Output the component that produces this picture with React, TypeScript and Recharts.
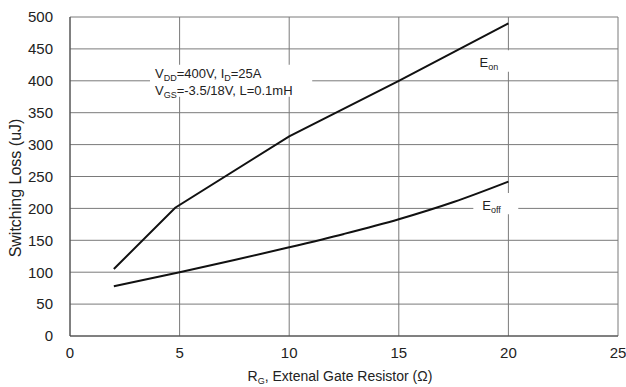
import React from "react";
import {
  LineChart,
  Line,
  XAxis,
  YAxis,
  CartesianGrid,
  ReferenceArea,
} from "recharts";

document.body.style.margin = "0";

const xTicks = [0, 5, 10, 15, 20, 25];
const yTicks = [0, 50, 100, 150, 200, 250, 300, 350, 400, 450, 500];

const eonRg = [2, 4.8, 10, 15, 20];
const eonLoss = [105, 201, 313, 400, 490];

const eoffRg = [2, 5, 7.5, 10, 12.5, 15, 17.5, 20];
const eoffLoss = [78, 100, 119, 139, 160, 183, 210, 242];

const eonData = eonRg.map((x, i) => ({ x, y: eonLoss[i] }));
const eoffData = eoffRg.map((x, i) => ({ x, y: eoffLoss[i] }));

const FONT = "Liberation Sans, Arial, sans-serif";
const sub = { fontSize: 9 };

function CondLabel(p: any) {
  const vb = p.viewBox || {};
  const x = vb.x + 5;
  const y = vb.y + 13;
  return (
    <text x={x} y={y} fontFamily={FONT} fontSize={13} fill="#222">
      <tspan>V</tspan>
      <tspan style={sub} dy={3}>DD</tspan>
      <tspan dy={-3}>=400V, I</tspan>
      <tspan style={sub} dy={3}>D</tspan>
      <tspan dy={-3}>=25A</tspan>
      <tspan x={x} dy={17}>V</tspan>
      <tspan style={sub} dy={3}>GS</tspan>
      <tspan dy={-3}>=-3.5/18V, L=0.1mH</tspan>
    </text>
  );
}

function EonLabel(p: any) {
  const vb = p.viewBox || {};
  return (
    <text x={vb.x + 3} y={vb.y + 17} fontFamily={FONT} fontSize={13} fill="#222">
      <tspan>E</tspan>
      <tspan style={sub} dy={3}>on</tspan>
    </text>
  );
}

function EoffLabel(p: any) {
  const vb = p.viewBox || {};
  return (
    <text x={vb.x + 9} y={vb.y + 17} fontFamily={FONT} fontSize={13} fill="#222">
      <tspan>E</tspan>
      <tspan style={sub} dy={3}>off</tspan>
    </text>
  );
}

function XTitle(p: any) {
  const vb = p.viewBox || {};
  return (
    <text
      x={vb.x + vb.width / 2 - 4}
      y={381}
      textAnchor="middle"
      fontFamily={FONT}
      fontSize={14}
      fill="#222"
    >
      <tspan>R</tspan>
      <tspan style={{ fontSize: 9 }} dy={3}>G</tspan>
      <tspan dy={-3}>, Extenal Gate Resistor (Ω)</tspan>
    </text>
  );
}

function YTitle() {
  const cx = 21;
  const cy = 188;
  return (
    <text
      x={cx}
      y={cy}
      transform={`rotate(-90 ${cx} ${cy})`}
      textAnchor="middle"
      fontFamily={FONT}
      fontSize={16}
      fill="#222"
    >
      Switching Loss (uJ)
    </text>
  );
}

export default function App() {
  return (
    <div style={{ width: 626, height: 387, background: "#fff" }}>
      <LineChart
        width={626}
        height={387}
        margin={{ top: 17, right: 8, left: 0, bottom: 21 }}
      >
        <CartesianGrid stroke="#7a7a7a" strokeWidth={1} />
        <XAxis
          type="number"
          dataKey="x"
          domain={[0, 25]}
          ticks={xTicks}
          height={30}
          tickLine={false}
          tickSize={0}
          tickMargin={11}
          axisLine={{ stroke: "#444" }}
          tick={{ fontFamily: FONT, fontSize: 15, fill: "#222" }}
          label={<XTitle />}
        />
        <YAxis
          type="number"
          dataKey="y"
          domain={[0, 500]}
          ticks={yTicks}
          width={70}
          tickLine={false}
          tickSize={0}
          tickMargin={17}
          axisLine={{ stroke: "#444" }}
          tick={{ fontFamily: FONT, fontSize: 15, fill: "#222" }}
          label={<YTitle />}
        />
        <ReferenceArea
          x1={3.65}
          x2={11.05}
          y1={375}
          y2={425}
          fill="#fff"
          fillOpacity={1}
          stroke="none"
          label={<CondLabel />}
        />
        <ReferenceArea
          x1={18.55}
          x2={20.45}
          y1={414}
          y2={448}
          fill="#fff"
          fillOpacity={1}
          stroke="none"
          label={<EonLabel />}
        />
        <ReferenceArea
          x1={18.4}
          x2={20.45}
          y1={191}
          y2={224}
          fill="#fff"
          fillOpacity={1}
          stroke="none"
          label={<EoffLabel />}
        />
        <Line
          data={eonData}
          dataKey="y"
          type="linear"
          stroke="#111"
          strokeWidth={2}
          dot={false}
          isAnimationActive={false}
        />
        <Line
          data={eoffData}
          dataKey="y"
          type="monotone"
          stroke="#111"
          strokeWidth={2}
          dot={false}
          isAnimationActive={false}
        />
      </LineChart>
    </div>
  );
}
